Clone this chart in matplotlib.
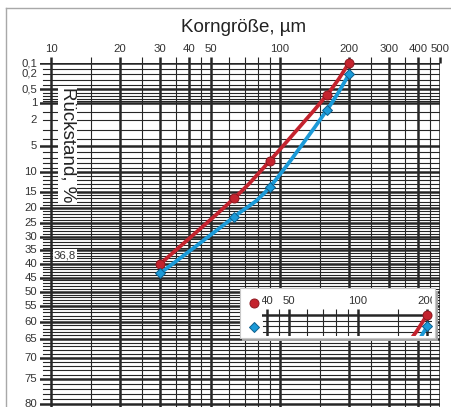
import numpy as np
import matplotlib
matplotlib.use("Agg")
import matplotlib.pyplot as plt
import matplotlib.transforms as mtransforms
from matplotlib.path import Path
from matplotlib.patches import PathPatch, Rectangle
from matplotlib.lines import Line2D

plt.rcParams['font.family'] = ['Liberation Sans', 'DejaVu Sans']

# Messwerte: Rueckstand (%) je Korngroesse (um)
korngroesse = [30, 63, 90, 160, 200]
rueckstand_rot = [40, 17, 7.6, 0.67, 0.1]
rueckstand_blau = [43.4, 23, 13.8, 1.36, 0.21]

# RRSB-Netz
x_dick = [10, 20, 30, 40, 50, 100, 200, 300, 400, 500]
x_text = ['10', '20', '30', '40', '50', '100', '200', '300', '400', '500']
x_duenn = [15, 25, 35, 45, 60, 70, 80, 90, 150, 250, 350, 450]
y_werte = [0.1, 0.2, 0.5, 1, 2, 5, 10, 15, 20, 25, 30, 35, 40, 45, 50,
           55, 60, 65, 70, 75, 80]
y_text = ['0,1', '0,2', '0,5', '1', '2', '5', '10', '15', '20', '25', '30',
          '35', '40', '45', '50', '55', '60', '65', '70', '75', '80']
y_dick = [0.1, 0.5, 1, 5] + list(range(10, 81, 5))
y_duenn = [0.15, 0.2, 0.3, 0.4, 0.6, 0.7, 0.8, 0.9, 1.5, 2, 3, 4] + \
          [v for v in range(6, 80) if v % 5 != 0]

ROT, ROT_RAND = '#c4232e', '#8e1820'
BLAU, BLAU_RAND = '#1b9ad8', '#0e5f8c'
GITTER = '#262626'
TXT = '#333333'

W, H = 452, 407
K = 229.0  # Pixel je Dekade


def fwd(r):
    r = np.clip(np.asarray(r, dtype=float), 1e-9, 99.9999)
    return -np.log10(np.log(100.0 / r))


def inv(v):
    return 100.0 * np.exp(-10.0 ** (-np.asarray(v, dtype=float)))


fig = plt.figure(figsize=(W / 100, H / 100), dpi=100)


def place(left_px, top_px, xlim, ylim, z=0):
    w = np.log10(xlim[1] / xlim[0]) * K
    h = (fwd(ylim[0]) - fwd(ylim[1])) * K
    ax = fig.add_axes([left_px / W, 1 - (top_px + h) / H, w / W, h / H])
    ax.set_xscale('log')
    ax.set_yscale('function', functions=(fwd, inv))
    ax.set_xlim(*xlim)
    ax.set_ylim(*ylim)
    ax.set_axis_off()
    ax.set_zorder(z)
    return ax


def gitter(ax, clip):
    ybot = ax.get_ylim()[0]
    x0, x1 = ax.get_xlim()
    for v in y_duenn:
        if v < ybot:
            ax.axhline(v, xmin=0.0075, color=GITTER, lw=0.8, zorder=1)
    for v in y_dick:
        if v < ybot:
            ax.axhline(v, color=GITTER, lw=1.8, zorder=1)
    ax.vlines(x_duenn, ybot, 0.1, color=GITTER, lw=0.8, zorder=1)
    ax.vlines(x_dick, ybot, 0.1, color=GITTER, lw=1.8, zorder=1)
    ax.plot(x_duenn, [0.1] * len(x_duenn), ls='none', marker=2, ms=4.3,
            mew=0.8, color=GITTER, clip_on=clip)
    ax.plot(x_dick, [0.1] * len(x_dick), ls='none', marker=2, ms=4.3,
            mew=1.8, color=GITTER, clip_on=clip)
    tr = mtransforms.offset_copy(ax.transData, fig=fig, y=14, units='dots')
    for x, s in zip(x_dick, x_text):
        if x < x0 / 1.15 or x > x1 * 1.15:
            continue
        t = ax.text(x, 0.1, s, transform=tr, ha='center', va='center',
                    fontsize=8.2, color=TXT)
        if clip:
            t.set_clip_path(None)
            t.set_clip_box(ax.bbox)
            t.set_clip_on(True)


def glatt(ax, xs, ys, farbe, clip):
    # geglaettete Linie (Bezier im skalierten Raum)
    p = ax.transScale.transform(np.column_stack([xs, ys]))
    n = len(p)
    verts, codes = [p[0]], [Path.MOVETO]
    for i in range(n - 1):
        p0, p1 = p[max(i - 1, 0)], p[i]
        p2, p3 = p[i + 1], p[min(i + 2, n - 1)]
        verts += [p1 + (p2 - p0) / 6, p2 - (p3 - p1) / 6, p2]
        codes += [Path.CURVE4] * 3
    patch = PathPatch(Path(verts, codes), transform=ax.transLimits + ax.transAxes,
                      fill=False, edgecolor=farbe, lw=2.7, capstyle='round',
                      joinstyle='round', zorder=4)
    patch.set_clip_on(clip)
    ax.add_patch(patch)


def kurven(ax, clip):
    glatt(ax, korngroesse, rueckstand_rot, ROT, clip)
    glatt(ax, korngroesse, rueckstand_blau, BLAU, clip)
    ax.plot(korngroesse, rueckstand_rot, ls='none', marker='o', ms=6.5,
            mfc=ROT, mec=ROT_RAND, mew=0.7, zorder=5, clip_on=clip)
    ax.plot(korngroesse, rueckstand_blau, ls='none', marker='D', ms=4.8,
            mfc=BLAU, mec=BLAU_RAND, mew=0.7, zorder=5, clip_on=clip)


# Hauptdiagramm
ax = place(40, 63, (8.95, 500), (85, 0.1))
gitter(ax, False)
kurven(ax, False)

trl = mtransforms.offset_copy(ax.transData, fig=fig, x=-3, units='dots')
for v, s in zip(y_werte, y_text):
    ax.text(8.95, v, s, transform=trl, ha='right', va='center',
            fontsize=8.2, color=TXT)

tr36 = mtransforms.offset_copy(ax.transData, fig=fig, x=14, units='dots')
ax.text(10, 36.8, '36,8', transform=tr36, ha='center', va='center',
        fontsize=8.2, color=TXT, zorder=6,
        bbox=dict(fc='white', ec='none', pad=0.6))

fig.text(244 / W, 1 - 27 / H, 'Korngröße, µm', ha='center', va='center',
         fontsize=13.5, color='#222222')
fig.text(67.5 / W, 1 - 145 / H, 'Rückstand, %', rotation=270, ha='center',
         va='center', fontsize=13.5, color='#222222', zorder=6,
         bbox=dict(fc='white', ec='none', pad=1.0))

# Rahmen
fig.add_artist(Line2D([6 / W, 6 / W], [0, 1 - 8 / H], color='#a8a8a8', lw=1.0))
fig.add_artist(Line2D([6 / W, 1], [1 - 8 / H, 1 - 8 / H], color='#a8a8a8', lw=1.0))

# Legende
fig.add_artist(Rectangle((242.5 / W, 1 - 340.5 / H), 195 / W, 50 / H,
                         transform=fig.transFigure, fc='#a3a3a3', ec='none',
                         zorder=5))
fig.add_artist(Rectangle((240 / W, 1 - 338 / H), 195 / W, 50 / H,
                         transform=fig.transFigure, fc='white', ec='#c8c8c8',
                         lw=0.8, zorder=5))
fig.add_artist(Line2D([254 / W], [1 - 303 / H], marker='o', ms=6.5, mfc=ROT,
                      mec=ROT_RAND, mew=0.7, ls='none', zorder=7))
fig.add_artist(Line2D([254 / W], [1 - 327 / H], marker='D', ms=4.8, mfc=BLAU,
                      mec=BLAU_RAND, mew=0.7, ls='none', zorder=7))

ix0 = 40 / 10 ** (5 / K)
ix1 = ix0 * 10 ** (170 / K)
iy_top = inv(fwd(0.1) - 19 / K)
iy_bot = inv(fwd(0.1) + 21 / K)
lax = place(262, 296, (ix0, ix1), (iy_bot, iy_top), z=6)
gitter(lax, True)
kurven(lax, True)

fig.savefig('out.png', dpi=100, facecolor='white')
